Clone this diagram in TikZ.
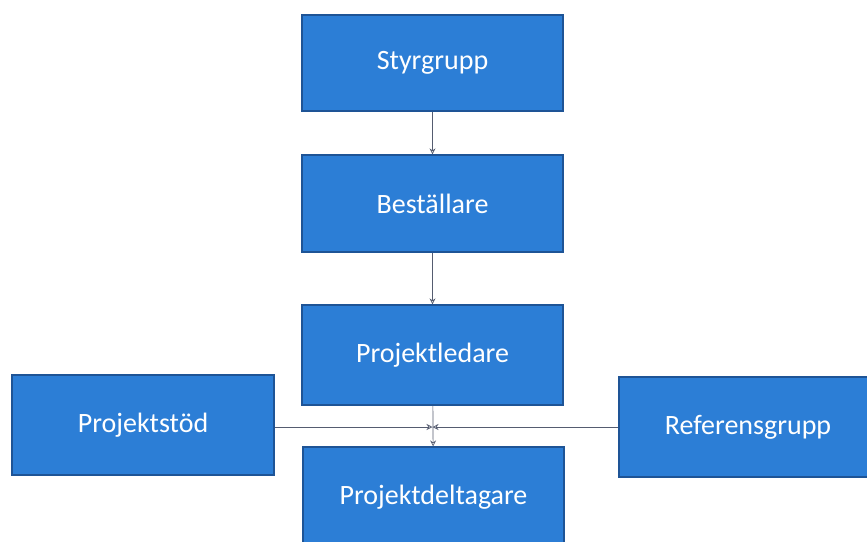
\documentclass[tikz,border=0pt]{standalone}
\usepackage{fontspec}
\setmainfont{Carlito}
\usetikzlibrary{arrows.meta}
\definecolor{boxfill}{RGB}{44,126,214}
\definecolor{boxedge}{RGB}{30,84,150}
\definecolor{linecol}{RGB}{85,92,112}
\tikzset{
  orgbox/.style={draw=boxedge, line width=1.2pt, fill=boxfill, text=white,
    minimum width=261pt, minimum height=97pt, inner sep=0pt,
    font=\fontsize{28pt}{32pt}\selectfont},
  link/.style={draw=linecol, line width=0.7pt, -{Stealth[length=6pt,width=6pt,open]}}
}
\begin{document}
\begin{tikzpicture}[x=1pt,y=-1pt]
\useasboundingbox (0,0) rectangle (867,541);
\clip (0,0) rectangle (867,541);
\fill[white] (0,0) rectangle (867,541);
\node[orgbox, minimum height=96pt] (sg) at (432.5,63) {Styrgrupp};
\node[orgbox] (be) at (432.5,203.5) {Beställare};
\node[orgbox, minimum height=100pt] (pl) at (432.5,355) {Projektledare};
\node[orgbox, minimum height=100pt] (pd) at (433.5,497) {Projektdeltagare};
\node[orgbox, minimum width=262pt, minimum height=100pt] (ps) at (143,425) {Projektstöd};
\node[orgbox, minimum width=258pt, minimum height=100pt] (rg) at (748,427) {Referensgrupp};
\coordinate (mid) at (432.5,427);
\draw[link] (sg) -- (be);
\draw[link] (be) -- (pl);
\draw[link] (pl) -- (pd);
\draw[link] (ps.east |- mid) -- (mid);
\draw[link] (rg.west |- mid) -- (mid);
\end{tikzpicture}
\end{document}
